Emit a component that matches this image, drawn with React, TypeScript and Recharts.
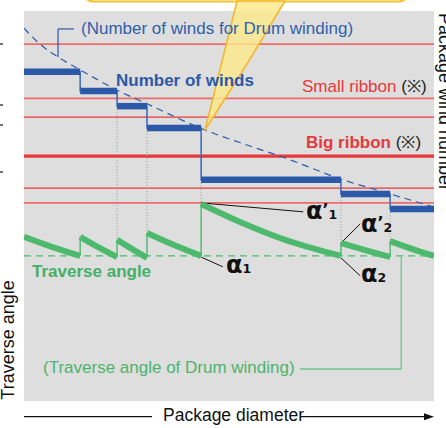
import { CartesianGrid, ComposedChart, Line, ReferenceLine, XAxis, YAxis } from "recharts"

// package diameter runs 0..100 across the chart, winds / angle 0..100 up the chart
const stepDiameters = [0, 13.7, 22.7, 30, 43.2, 77.3, 89.3, 100]
const windSteps = [84.4, 79.5, 75.6, 70.0, 56.7, 53.1, 49.2]

// number of winds for drum winding (dashed)
const drumDiameters = [0, 3.9, 8.3, 13.7, 22.7, 30, 44.1, 55.9, 63.7, 77.3, 89.3, 100]
const drumWinds = [95.6, 91.5, 88.2, 84.9, 79.7, 76.2, 69.5, 65.1, 62.3, 56.9, 53.1, 49.7]

// ribbon zones
const smallRibbonLevels = [91.5, 77.6, 50.8]
const bigRibbonEdges = [72.8, 54.6]
const bigRibbonCenter = 62.8

// traverse angle, one curve per step
const angleDiameters = [
  [0, 6.6, 13.7],
  [13.7, 18.0, 22.7],
  [22.7, 26.3, 30.0],
  [30.0, 36.6, 43.2],
  [43.2, 52.7, 62.4, 77.3],
  [77.3, 83.2, 89.3],
  [89.3, 94.6, 100],
]
const angleValues = [
  [42.1, 39.6, 37.2],
  [42.1, 39.5, 36.9],
  [41.3, 39.0, 36.7],
  [43.1, 40.0, 37.2],
  [50.5, 45.9, 41.8, 37.2],
  [40.5, 38.7, 36.9],
  [41.0, 39.0, 37.2],
]
const drumAngle = 37.2

const BLUE = "#2b59a8"
const GREEN = "#4cb96c"
const RED = "#e5383b"
const FONT = "'Liberation Sans', Arial, sans-serif"

type Pt = { x: number; y: number }

const stepPoints: Pt[] = [
  ...windSteps.map((w, i) => ({ x: stepDiameters[i], y: w })),
  { x: 100, y: windSteps[windSteps.length - 1] },
]
const drumPoints: Pt[] = drumDiameters.map((d, i) => ({ x: d, y: drumWinds[i] }))
const angleSegs: Pt[][] = angleDiameters.map((ds, i) => ds.map((d, j) => ({ x: d, y: angleValues[i][j] })))

function Alpha({ x, y, sub, prime }: { x: number; y: number; sub: string; prime?: boolean }) {
  return (
    <text x={x} y={y} fontFamily="'DejaVu Sans', sans-serif" fontWeight="bold" fill="#111">
      <tspan fontSize={24}>α</tspan>
      {prime && <tspan fontSize={16} dy={-4}>’</tspan>}
      <tspan fontSize={12.5} dy={prime ? 4 : 0}>{sub}</tspan>
    </text>
  )
}

export default function App() {
  return (
    <div style={{ position: "absolute", left: 0, top: 0, width: 446, height: 428, background: "#fff" }}>
      <ComposedChart width={446} height={428} margin={{ top: 11, right: 12, bottom: 27, left: 24 }}>
        <CartesianGrid fill="#dedede" horizontal={false} vertical={false} />
        <XAxis type="number" dataKey="x" domain={[0, 100]} hide allowDataOverflow />
        <YAxis type="number" domain={[0, 100]} hide allowDataOverflow />

        {smallRibbonLevels.map((v) => (
          <ReferenceLine key={"s" + v} y={v} stroke="#ee6a6a" strokeWidth={1.6} />
        ))}
        {bigRibbonEdges.map((v) => (
          <ReferenceLine key={"b" + v} y={v} stroke={RED} strokeWidth={1.3} />
        ))}
        <ReferenceLine y={bigRibbonCenter} stroke={RED} strokeWidth={3.2} />
        <ReferenceLine y={drumAngle} stroke={GREEN} strokeWidth={1.3} strokeDasharray="7 5" />

        {/* dotted guides from wind step down to angle jump */}
        {angleSegs.slice(2).map((seg, i) => (
          <ReferenceLine
            key={"g" + i}
            segment={[{ x: seg[0].x, y: windSteps[i + 2] }, { x: seg[0].x, y: seg[0].y }]}
            stroke="#9a9a9a"
            strokeWidth={1}
            strokeDasharray="1 2"
          />
        ))}

        {/* thin green drops between curves */}
        {angleSegs.slice(1).map((seg, i) => (
          <ReferenceLine
            key={"d" + i}
            segment={[{ x: seg[0].x, y: angleSegs[i][angleSegs[i].length - 1].y }, { x: seg[0].x, y: seg[0].y }]}
            stroke={GREEN}
            strokeWidth={1.4}
          />
        ))}

        {/* leaders */}
        <ReferenceLine segment={[{ x: 12.2, y: 95.4 }, { x: 8.3, y: 95.4 }]} stroke={BLUE} strokeWidth={1.2} />
        <ReferenceLine segment={[{ x: 8.3, y: 95.4 }, { x: 8.3, y: 88.2 }]} stroke={BLUE} strokeWidth={1.2} />
        <ReferenceLine segment={[{ x: 67.3, y: 8.2 }, { x: 92.0, y: 8.2 }]} stroke="#6cc88a" strokeWidth={1.3} />
        <ReferenceLine segment={[{ x: 92.0, y: 8.2 }, { x: 92.0, y: 37.2 }]} stroke="#6cc88a" strokeWidth={1.3} />
        <ReferenceLine segment={[{ x: 43.2, y: 50.8 }, { x: 68.1, y: 48.5 }]} stroke="#111" strokeWidth={1} />
        <ReferenceLine segment={[{ x: 43.2, y: 36.9 }, { x: 48.5, y: 34.4 }]} stroke="#111" strokeWidth={1} />
        <ReferenceLine segment={[{ x: 77.3, y: 40.5 }, { x: 82.0, y: 45.4 }]} stroke="#111" strokeWidth={1} />
        <ReferenceLine segment={[{ x: 77.3, y: 36.7 }, { x: 82.0, y: 32.1 }]} stroke="#111" strokeWidth={1} />

        <Line data={drumPoints} dataKey="y" type="monotone" stroke={BLUE} strokeWidth={1.2}
          strokeDasharray="7 5" dot={false} activeDot={false} isAnimationActive={false} />
        <Line data={stepPoints} dataKey="y" type="stepAfter" stroke="#3b67b8" strokeWidth={1.5}
          dot={false} activeDot={false} isAnimationActive={false} />
        {windSteps.map((w, i) => (
          <Line key={"w" + i} data={[{ x: stepDiameters[i], y: w }, { x: stepDiameters[i + 1], y: w }]}
            dataKey="y" stroke={BLUE} strokeWidth={6.5} dot={false} activeDot={false} isAnimationActive={false} />
        ))}
        {angleSegs.map((seg, i) => (
          <Line key={"a" + i} data={seg} dataKey="y" type="monotone" stroke={GREEN} strokeWidth={6}
            dot={false} activeDot={false} isAnimationActive={false} />
        ))}
      </ComposedChart>

      <svg width={446} height={428} style={{ position: "absolute", left: 0, top: 0, pointerEvents: "none" }}>
        {/* callout */}
        <path d="M83,-10 Q84,1.5 94,1.5 L398,1.5 Q408,1.5 409,-10" fill="#fff" stroke="#f6c22c" strokeWidth={2.2} />
        <polygon points="237,1 285,1 247,64 205,130" fill="#fde98a" fillOpacity={0.8}
          stroke="#f5b62a" strokeWidth={1.5} strokeLinejoin="round" />

        <g fontFamily={FONT} fontSize={17}>
          <text x={81} y={33.5} fill="#3060ac">(Number of winds for Drum winding)</text>
          <text x={116} y={85.7} fill={BLUE} fontWeight="bold">Number of winds</text>
          <text x={302} y={92.3} fill={RED}>
            Small ribbon <tspan fill="#222">(※)</tspan>
          </text>
          <text x={306} y={148.3} fill={RED}>
            <tspan fontWeight="bold">Big ribbon</tspan> <tspan fill="#222">(※)</tspan>
          </text>
          <text x={32} y={277.3} fill="#45b066" fontWeight="bold">Traverse angle</text>
          <text x={43} y={373.3} fill="#4cb46c">(Traverse angle of Drum winding)</text>
        </g>

        <Alpha x={306} y={219} sub="1" prime />
        <Alpha x={226} y={273} sub="1" />
        <Alpha x={361} y={232} sub="2" prime />
        <Alpha x={361} y={282} sub="2" />

        {/* axis captions */}
        <line x1={24} y1={416.7} x2={152} y2={416.7} stroke="#111" strokeWidth={1.2} />
        <line x1={300} y1={416.7} x2={428} y2={416.7} stroke="#111" strokeWidth={1.2} />
        <polygon points="434,416.7 424,413.2 424,420.2" fill="#111" />
        <text x={163} y={421} fontFamily={FONT} fontSize={17.5} fill="#111">Package diameter</text>
        <text x={14} y={340} transform="rotate(-90 14 340)" textAnchor="middle"
          fontFamily={FONT} fontSize={18} fill="#111">Traverse angle</text>
        <text x={439} y={102} transform="rotate(90 439 102)" textAnchor="middle"
          fontFamily={FONT} fontSize={18} fill="#111">Package wind number</text>
        {[44, 105, 125, 172].map((t) => (
          <line key={t} x1={0} y1={t} x2={3} y2={t} stroke="#111" strokeWidth={1.2} />
        ))}
      </svg>
    </div>
  )
}
